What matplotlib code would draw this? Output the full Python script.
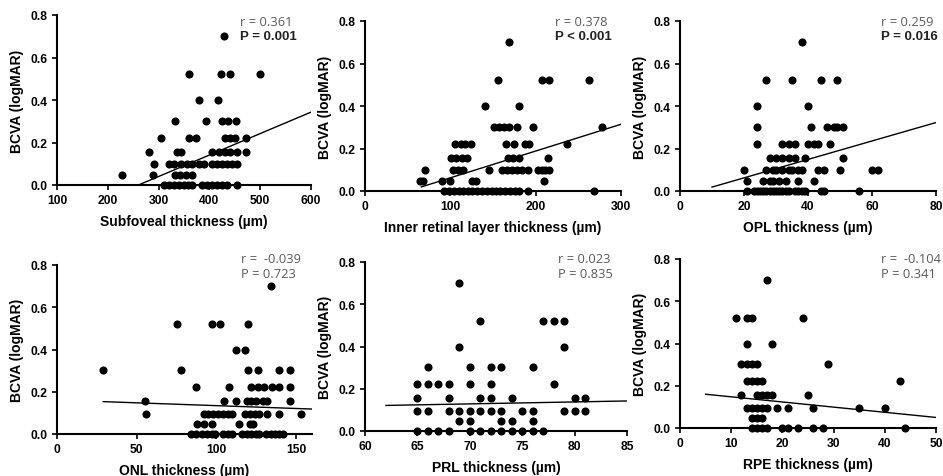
import numpy as np
import matplotlib
matplotlib.use('Agg')
import matplotlib.pyplot as plt

W, H = 943, 477

# logMAR levels (rows of points share these values)
bcva_levels = [0.0, 0.046, 0.097, 0.155, 0.222, 0.301, 0.398, 0.523, 0.699]

# thickness values (um) at each BCVA level, bottom row first
subfoveal_rows = [
    [310, 320, 330, 340, 350, 358, 366, 386, 396, 405, 414, 424, 435, 454],
    [228, 288, 333, 343, 354, 365],
    [290, 320, 330, 345, 355, 365, 380, 390, 405, 415, 425, 435, 445, 455],
    [281, 336, 345, 406, 418, 431, 441, 454, 473],
    [305, 360, 374, 431, 441, 450, 473],
    [333, 393, 424, 437, 452],
    [380, 416],
    [360, 423, 441, 500],
    [428],
]
inner_rows = [
    [92, 98, 104, 110, 115, 121, 125, 131, 137, 143, 149, 153, 158, 164, 170, 176, 180, 191, 268],
    [65, 68, 90, 100, 125, 130, 210],
    [70, 103, 109, 115, 145, 160, 166, 172, 178, 184, 191, 203, 207, 211, 216],
    [101, 107, 114, 120, 168, 174, 180, 214],
    [106, 112, 117, 124, 165, 175, 188, 192, 237],
    [151, 157, 163, 169, 178, 197, 278],
    [141, 181],
    [156, 208, 216, 262],
    [169],
]
opl_rows = [
    [21, 23, 24, 25, 26, 27, 28, 29, 30, 31, 32, 33, 34, 36, 37, 38, 39, 44, 45, 56],
    [21, 26, 28, 29, 31, 33, 37, 42],
    [20, 27, 29, 30, 32, 34, 35, 37, 38, 43, 45, 50, 60, 62],
    [28, 30, 32, 34, 36, 39, 51],
    [24, 32, 34, 36, 40, 42, 43, 47],
    [24, 41, 46, 48, 49, 51],
    [24, 40],
    [27, 35, 44, 49],
    [38],
]
onl_rows = [
    [84, 87, 91, 94, 97, 99, 104, 107, 110, 116, 119, 122, 125, 127, 131, 134, 137, 139, 142],
    [88, 92, 97, 114, 121, 123],
    [56, 92, 95, 98, 101, 104, 107, 110, 118, 121, 124, 127, 132, 139, 153],
    [55, 105, 112, 119, 122, 125, 129, 132, 146],
    [87, 108, 122, 126, 130, 135, 139, 146],
    [29, 78, 120, 126, 139, 146],
    [112, 118],
    [75, 97, 102, 120],
    [134],
]
prl_rows = [
    [65, 66, 67, 68, 70, 71, 72, 73, 74, 75, 76, 77],
    [69, 70, 73, 74, 76],
    [65, 66, 68, 69, 70, 71, 72, 73, 75, 76, 79, 80, 81],
    [65, 68, 71, 72, 74, 80, 81],
    [65, 66, 67, 68, 70, 72, 78],
    [66, 70, 72, 73, 76],
    [69, 79],
    [71, 77, 78, 79],
    [69],
]
rpe_rows = [
    [14, 15, 16, 17, 20, 21, 23, 26, 28, 44],
    [14, 15, 16],
    [13, 14, 15, 16, 17, 19, 21, 26, 35, 40],
    [12, 15, 16, 17, 18, 25],
    [13, 14, 15, 16, 43],
    [12, 13, 14, 15, 29],
    [13, 18],
    [11, 13, 14, 24],
    [17],
]

x_labels = ['Subfoveal thickness (\u00b5m)', 'Inner retinal layer thickness (\u00b5m)',
            'OPL thickness (\u00b5m)', 'ONL thickness (\u00b5m)',
            'PRL thickness (\u00b5m)', 'RPE thickness (\u00b5m)']
r_text = ['r = 0.361', 'r = 0.378', 'r = 0.259', 'r =  -0.039', 'r = 0.023', 'r =  -0.104']
p_text = ['P = 0.001', 'P < 0.001', 'P = 0.016', 'P = 0.723', 'P = 0.835', 'P = 0.341']
p_bold = [True, True, True, False, False, False]

# regression lines
fit_slope = [0.00101, 0.00126, 0.00434, -0.000268, 0.00092, -0.00244]
fit_intercept = [-0.263, -0.064, -0.025, 0.161, 0.064, 0.172]
fit_range = [(260, 600), (66, 300), (10, 80), (29, 160), (62, 85), (5, 50)]

x_limits = [(100, 600), (0, 300), (0, 80), (0, 160), (60, 85), (0, 50)]
x_ticks = [[100, 200, 300, 400, 500, 600], [0, 100, 200, 300], [0, 20, 40, 60, 80],
           [0, 50, 100, 150], [60, 65, 70, 75, 80, 85], [0, 10, 20, 30, 40, 50]]

all_rows = [subfoveal_rows, inner_rows, opl_rows, onl_rows, prl_rows, rpe_rows]

# axes boxes in pixels: left, top, right, bottom
boxes = [(57, 16, 311, 186), (365, 22, 621, 192), (680, 22, 936, 192),
         (57, 266, 312, 435), (365, 263, 627, 432), (680, 260, 936, 429)]
text_pos = [(240, 22), (555, 22), (881, 22), (241, 260), (558, 260), (881, 260)]


def expand(rows):
    xs, ys = [], []
    for level, row in zip(bcva_levels, rows):
        xs += row
        ys += [level] * len(row)
    return np.array(xs, float), np.array(ys, float)


fig = plt.figure(figsize=(W / 100, H / 100), dpi=100)
bold_font = 'Liberation Sans'
light_font = 'Open Sans'

for i in range(6):
    l, t, r, b = boxes[i]
    ax = fig.add_axes([l / W, 1 - b / H, (r - l) / W, (b - t) / H])
    x, y = expand(all_rows[i])
    ax.scatter(x, y, s=34, color='black', linewidths=0, clip_on=False, zorder=3)

    x0, x1 = fit_range[i]
    fx = np.array([x0, x1])
    ax.plot(fx, fit_slope[i] * fx + fit_intercept[i], color='black', lw=1.0, zorder=2)

    ax.set_xlim(*x_limits[i])
    ax.set_ylim(0, 0.8)
    ax.set_xticks(x_ticks[i])
    ax.set_yticks([0.0, 0.2, 0.4, 0.6, 0.8])
    ax.set_yticklabels(['0.0', '0.2', '0.4', '0.6', '0.8'])
    for s in ['top', 'right']:
        ax.spines[s].set_visible(False)
    for s in ['left', 'bottom']:
        ax.spines[s].set_linewidth(1.5)
    ax.tick_params(direction='out', length=3.5, width=1.2, pad=3, labelsize=8.7)
    for lab in ax.get_xticklabels() + ax.get_yticklabels():
        lab.set_fontfamily(bold_font)
        lab.set_fontweight('bold')
    ax.set_xlabel(x_labels[i], fontsize=10, fontweight='bold', family=bold_font, labelpad=6)
    ax.set_ylabel('BCVA (logMAR)', fontsize=10, fontweight='bold', family=bold_font, labelpad=5)

    tx, ty = text_pos[i]
    fig.text(tx / W, 1 - ty / H, r_text[i], fontsize=9.3, color='#5a5a5a',
             family=light_font, ha='left', va='center')
    if p_bold[i]:
        fig.text(tx / W, 1 - (ty + 15) / H, p_text[i], fontsize=9.5, color='#222222',
                 family=bold_font, fontweight='bold', ha='left', va='center')
    else:
        fig.text(tx / W, 1 - (ty + 15) / H, p_text[i], fontsize=9.3, color='#5a5a5a',
                 family=light_font, ha='left', va='center')

fig.savefig('out.png', dpi=100)
